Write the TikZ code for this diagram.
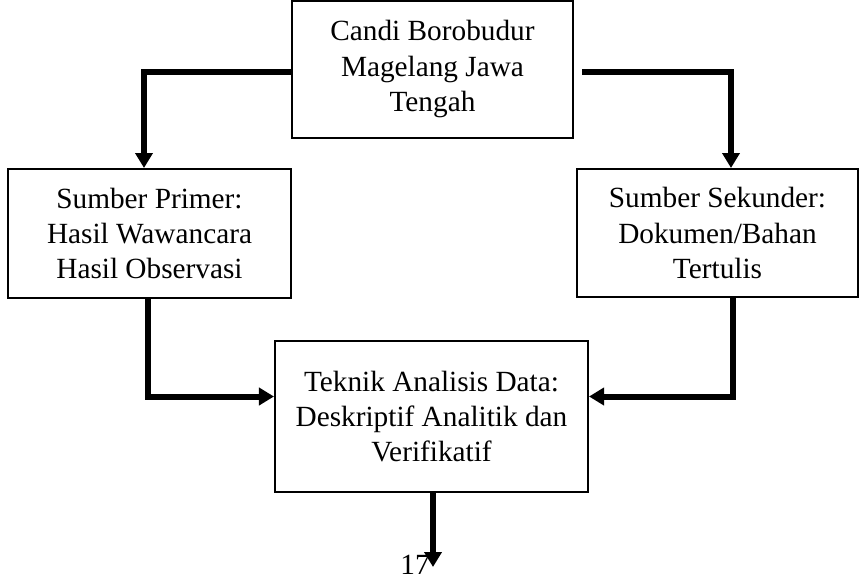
\documentclass[tikz,border=0pt]{standalone}
\usepackage{fontspec}
\setmainfont{Liberation Serif}
\usetikzlibrary{arrows.meta, positioning}

\begin{document}
\begin{tikzpicture}[x=0.03cm, y=-0.03cm,
    box/.style={draw, line width=0.06cm, align=center, inner sep=0pt, font=\fontsize{25}{30}\selectfont},
    flow/.style={line width=0.18cm, -{Triangle[length=0.45cm, width=0.51cm]}}]
    \useasboundingbox (0,0) rectangle (863,579);

    % Boxes
    \node[box, minimum width=8.43cm, minimum height=4.11cm] (candi) at (432.5,69) {Candi Borobudur\\Magelang Jawa\\Tengah};
    \node[box, minimum width=8.49cm, minimum height=3.87cm] (primer) at (149.5,233.5) {Sumber Primer:\\Hasil Wawancara\\Hasil Observasi};
    \node[box, minimum width=8.43cm, minimum height=3.84cm] (sekunder) at (717.5,233) {Sumber Sekunder:\\Dokumen/Bahan\\Tertulis};
    \node[box, minimum width=9.39cm, minimum height=4.53cm] (analisis) at (431.5,416.5) {Teknik Analisis Data:\\Deskriptif Analitik dan\\Verifikatif};

    % Arrows
    \draw[flow] ([yshift=-0.09cm]candi.west) -| ([xshift=-0.165cm]primer.north);
    \draw[flow] ([xshift=0.24cm, yshift=-0.09cm]candi.east) -| ([xshift=0.405cm]sekunder.north);
    \draw[flow] ([xshift=-0.045cm]primer.south) |- ([yshift=0.6cm]analisis.west);
    \draw[flow] ([xshift=0.465cm]sekunder.south) |- ([yshift=0.6cm]analisis.east);
    \coordinate (akhir) at (433,567);
    \draw[flow] (analisis.south -| akhir) -- (akhir);

    \node[font=\fontsize{25}{30}\selectfont, inner sep=0pt] (hal) at (415,565) {17};
\end{tikzpicture}
\end{document}
